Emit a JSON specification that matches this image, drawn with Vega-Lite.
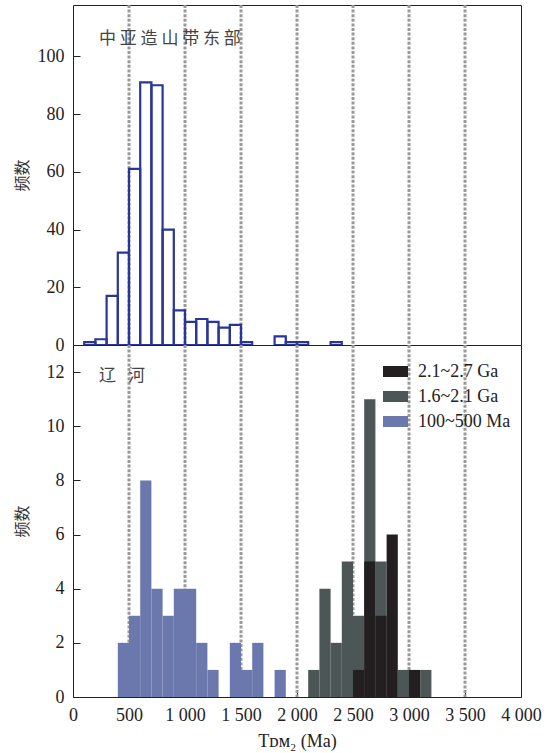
{
  "$schema": "https://vega.github.io/schema/vega-lite/v6.json",
  "padding": {"left": 13, "top": 3, "right": 33, "bottom": 3},
  "spacing": 0,
  "bounds": "flush",
  "resolve": {"legend": {"color": "independent"}},
  "config": {
    "view": {"stroke": "#222", "strokeWidth": 1},
    "font": "Liberation Serif",
    "axis": {
      "labelFont": "Liberation Serif", "labelFontSize": 18, "labelColor": "#222",
      "tickColor": "#222", "tickSize": -7, "labelPadding": 16,
      "domain": false, "grid": false,
      "titleFont": "Noto Sans CJK SC", "titleFontSize": 16, "titleFontWeight": "normal", "titleColor": "#333"
    }
  },
  "datasets": {
    "refs": [{"age": 500}, {"age": 1000}, {"age": 1500}, {"age": 2000}, {"age": 2500}, {"age": 3000}, {"age": 3500}],
    "east": [
      {"start": 100, "end": 200, "count": 1},
      {"start": 200, "end": 300, "count": 2},
      {"start": 300, "end": 400, "count": 17},
      {"start": 400, "end": 500, "count": 32},
      {"start": 500, "end": 600, "count": 61},
      {"start": 600, "end": 700, "count": 91},
      {"start": 700, "end": 800, "count": 90},
      {"start": 800, "end": 900, "count": 40},
      {"start": 900, "end": 1000, "count": 12},
      {"start": 1000, "end": 1100, "count": 8},
      {"start": 1100, "end": 1200, "count": 9},
      {"start": 1200, "end": 1300, "count": 8},
      {"start": 1300, "end": 1400, "count": 6},
      {"start": 1400, "end": 1500, "count": 7},
      {"start": 1500, "end": 1600, "count": 1},
      {"start": 1800, "end": 1900, "count": 3},
      {"start": 1900, "end": 2000, "count": 1},
      {"start": 2000, "end": 2100, "count": 1},
      {"start": 2300, "end": 2400, "count": 1}
    ],
    "liaohe": [
      {"start": 400, "end": 500, "count": 2, "group": "100~500 Ma"},
      {"start": 500, "end": 600, "count": 3, "group": "100~500 Ma"},
      {"start": 600, "end": 700, "count": 8, "group": "100~500 Ma"},
      {"start": 700, "end": 800, "count": 4, "group": "100~500 Ma"},
      {"start": 800, "end": 900, "count": 3, "group": "100~500 Ma"},
      {"start": 900, "end": 1000, "count": 4, "group": "100~500 Ma"},
      {"start": 1000, "end": 1100, "count": 4, "group": "100~500 Ma"},
      {"start": 1100, "end": 1200, "count": 2, "group": "100~500 Ma"},
      {"start": 1200, "end": 1300, "count": 1, "group": "100~500 Ma"},
      {"start": 1400, "end": 1500, "count": 2, "group": "100~500 Ma"},
      {"start": 1500, "end": 1600, "count": 1, "group": "100~500 Ma"},
      {"start": 1600, "end": 1700, "count": 2, "group": "100~500 Ma"},
      {"start": 1800, "end": 1900, "count": 1, "group": "100~500 Ma"},
      {"start": 2100, "end": 2200, "count": 1, "group": "1.6~2.1 Ga"},
      {"start": 2200, "end": 2300, "count": 4, "group": "1.6~2.1 Ga"},
      {"start": 2300, "end": 2400, "count": 2, "group": "1.6~2.1 Ga"},
      {"start": 2400, "end": 2500, "count": 5, "group": "1.6~2.1 Ga"},
      {"start": 2500, "end": 2600, "count": 3, "group": "1.6~2.1 Ga"},
      {"start": 2600, "end": 2700, "count": 11, "group": "1.6~2.1 Ga"},
      {"start": 2700, "end": 2800, "count": 5, "group": "1.6~2.1 Ga"},
      {"start": 2900, "end": 3000, "count": 1, "group": "1.6~2.1 Ga"},
      {"start": 3100, "end": 3200, "count": 1, "group": "1.6~2.1 Ga"},
      {"start": 2500, "end": 2600, "count": 1, "group": "2.1~2.7 Ga"},
      {"start": 2600, "end": 2700, "count": 5, "group": "2.1~2.7 Ga"},
      {"start": 2700, "end": 2800, "count": 3, "group": "2.1~2.7 Ga"},
      {"start": 2800, "end": 2900, "count": 6, "group": "2.1~2.7 Ga"},
      {"start": 3000, "end": 3100, "count": 1, "group": "2.1~2.7 Ga"}
    ]
  },
  "vconcat": [
    {
      "width": 448,
      "height": 340,
      "title": {"text": "中 亚 造 山 带 东 部", "anchor": "start", "frame": "group", "dx": 26, "offset": -52, "baseline": "middle", "font": "Noto Sans CJK SC", "fontSize": 17, "fontWeight": "normal", "color": "#444"},
      "layer": [
        {
          "data": {"name": "refs"},
          "mark": {"type": "rule", "strokeDash": [3, 1.6], "strokeWidth": 3, "color": "#999999"},
          "encoding": {
            "x": {"field": "age", "type": "quantitative", "scale": {"domain": [0, 4000], "nice": false}, "axis": null}
          }
        },
        {
          "data": {"name": "east"},
          "mark": {"type": "bar", "filled": false, "stroke": "#28359a", "strokeWidth": 2.2},
          "encoding": {
            "x": {"field": "start", "type": "quantitative", "scale": {"domain": [0, 4000], "nice": false}, "axis": null},
            "x2": {"field": "end"},
            "y": {"field": "count", "type": "quantitative", "scale": {"domain": [0, 117.8], "nice": false},
              "axis": {"values": [0, 20, 40, 60, 80, 100], "title": "频数", "titleX": -51, "titleAngle": 270, "titleAlign": "center", "titleBaseline": "middle"}},
            "y2": {"datum": 0}
          }
        }
      ]
    },
    {
      "width": 448,
      "height": 352,
      "title": {"text": "辽\u2002\u2009河", "anchor": "start", "frame": "group", "dx": 26, "offset": -49, "baseline": "middle", "font": "Noto Sans CJK SC", "fontSize": 17, "fontWeight": "normal", "color": "#444"},
      "layer": [
        {
          "data": {"name": "refs"},
          "mark": {"type": "rule", "strokeDash": [3, 1.6], "strokeWidth": 3, "color": "#999999"},
          "encoding": {
            "x": {"field": "age", "type": "quantitative", "scale": {"domain": [0, 4000], "nice": false}}
          }
        },
        {
          "data": {"name": "liaohe"},
          "mark": {"type": "bar", "opacity": 1},
          "encoding": {
            "x": {"field": "start", "type": "quantitative", "scale": {"domain": [0, 4000], "nice": false},
              "axis": {"values": [0, 500, 1000, 1500, 2000, 2500, 3000, 3500, 4000], "labelExpr": "replace(format(datum.value, ','), ',', ' ')", "labelFlush": false, "labelOverlap": false,
                "title": "Tᴅᴍ₂ (Ma)", "titleFont": "Liberation Serif", "titleFontSize": 18, "titleColor": "#222", "titlePadding": 8}},
            "x2": {"field": "end"},
            "y": {"field": "count", "type": "quantitative", "stack": null, "scale": {"domain": [0, 13], "nice": false},
              "axis": {"values": [0, 2, 4, 6, 8, 10, 12], "title": "频数", "titleX": -51, "titleAngle": 270, "titleAlign": "center", "titleBaseline": "middle"}},
            "y2": {"datum": 0},
            "color": {"field": "group", "type": "nominal",
              "scale": {"domain": ["2.1~2.7 Ga", "1.6~2.1 Ga", "100~500 Ma"], "range": ["#231f20", "#4d5657", "#6b78ad"]},
              "legend": {"orient": "none", "legendX": 310, "legendY": 14, "title": null, "padding": 0,
                "symbolType": "M-1,-0.44H1V0.44H-1Z", "symbolSize": 625, "symbolStrokeWidth": 0, "symbolOpacity": 1,
                "labelFont": "Liberation Serif", "labelFontSize": 18, "labelColor": "#222", "labelOffset": 10, "rowPadding": 3}}
          }
        }
      ]
    }
  ]
}
